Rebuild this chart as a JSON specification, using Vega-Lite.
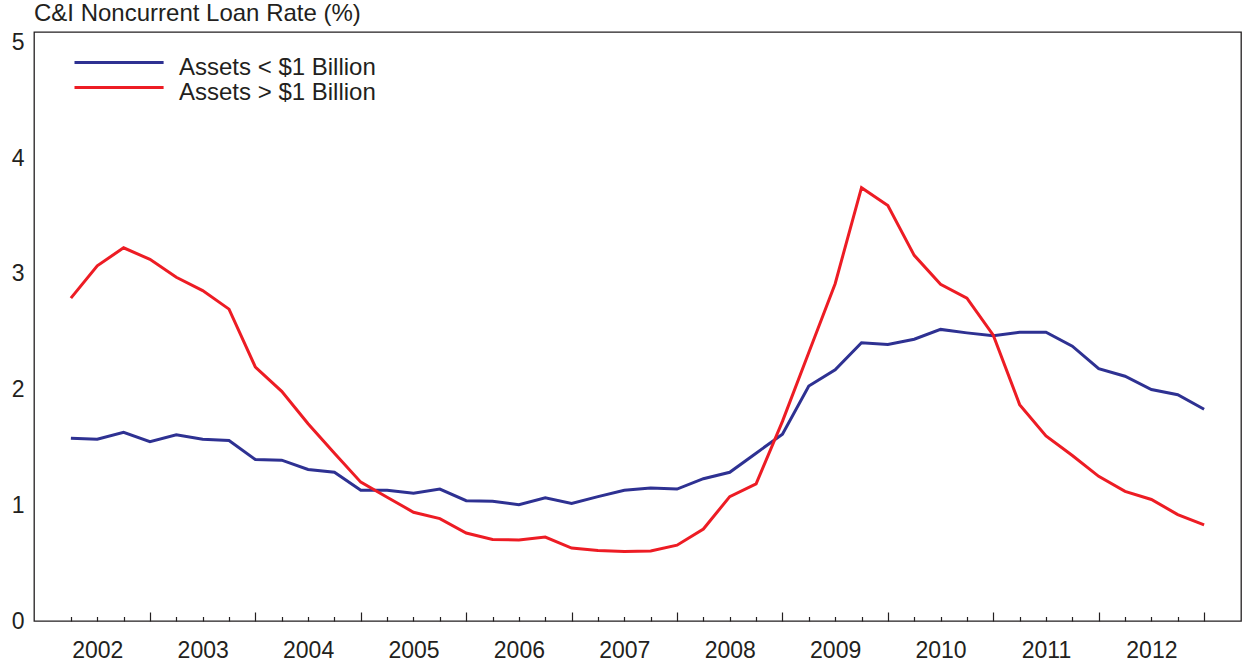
{
 "$schema": "https://vega.github.io/schema/vega-lite/v6.json",
 "width": 1207, "height": 589,
 "autosize": {"type": "none"},
 "padding": {"left": 34, "top": 32, "right": 1, "bottom": 45},
 "background": "white",
 "config": {"view": {"stroke": "#231f20", "strokeWidth": 1.3}, "font": "Liberation Sans"},
 "title": {"text": "C&I Noncurrent Loan Rate (%)", "anchor": "start", "fontSize": 24, "fontWeight": "normal", "color": "#231f20", "font": "Liberation Sans", "baseline": "alphabetic", "offset": -14, "frame": "group"},
 "data": {"values": [
  {"q":0,"series":"Assets < $1 Billion","rate":1.58},
  {"q":1,"series":"Assets < $1 Billion","rate":1.57},
  {"q":2,"series":"Assets < $1 Billion","rate":1.63},
  {"q":3,"series":"Assets < $1 Billion","rate":1.55},
  {"q":4,"series":"Assets < $1 Billion","rate":1.61},
  {"q":5,"series":"Assets < $1 Billion","rate":1.57},
  {"q":6,"series":"Assets < $1 Billion","rate":1.56},
  {"q":7,"series":"Assets < $1 Billion","rate":1.395},
  {"q":8,"series":"Assets < $1 Billion","rate":1.39},
  {"q":9,"series":"Assets < $1 Billion","rate":1.31},
  {"q":10,"series":"Assets < $1 Billion","rate":1.285},
  {"q":11,"series":"Assets < $1 Billion","rate":1.13},
  {"q":12,"series":"Assets < $1 Billion","rate":1.13},
  {"q":13,"series":"Assets < $1 Billion","rate":1.105},
  {"q":14,"series":"Assets < $1 Billion","rate":1.14},
  {"q":15,"series":"Assets < $1 Billion","rate":1.04},
  {"q":16,"series":"Assets < $1 Billion","rate":1.035},
  {"q":17,"series":"Assets < $1 Billion","rate":1.005},
  {"q":18,"series":"Assets < $1 Billion","rate":1.065},
  {"q":19,"series":"Assets < $1 Billion","rate":1.015},
  {"q":20,"series":"Assets < $1 Billion","rate":1.075},
  {"q":21,"series":"Assets < $1 Billion","rate":1.13},
  {"q":22,"series":"Assets < $1 Billion","rate":1.15},
  {"q":23,"series":"Assets < $1 Billion","rate":1.14},
  {"q":24,"series":"Assets < $1 Billion","rate":1.23},
  {"q":25,"series":"Assets < $1 Billion","rate":1.285},
  {"q":26,"series":"Assets < $1 Billion","rate":1.45},
  {"q":27,"series":"Assets < $1 Billion","rate":1.615},
  {"q":28,"series":"Assets < $1 Billion","rate":2.03},
  {"q":29,"series":"Assets < $1 Billion","rate":2.17},
  {"q":30,"series":"Assets < $1 Billion","rate":2.405},
  {"q":31,"series":"Assets < $1 Billion","rate":2.39},
  {"q":32,"series":"Assets < $1 Billion","rate":2.435},
  {"q":33,"series":"Assets < $1 Billion","rate":2.52},
  {"q":34,"series":"Assets < $1 Billion","rate":2.49},
  {"q":35,"series":"Assets < $1 Billion","rate":2.465},
  {"q":36,"series":"Assets < $1 Billion","rate":2.495},
  {"q":37,"series":"Assets < $1 Billion","rate":2.495},
  {"q":38,"series":"Assets < $1 Billion","rate":2.375},
  {"q":39,"series":"Assets < $1 Billion","rate":2.18},
  {"q":40,"series":"Assets < $1 Billion","rate":2.115},
  {"q":41,"series":"Assets < $1 Billion","rate":2.0},
  {"q":42,"series":"Assets < $1 Billion","rate":1.955},
  {"q":43,"series":"Assets < $1 Billion","rate":1.83},
  {"q":0,"series":"Assets > $1 Billion","rate":2.79},
  {"q":1,"series":"Assets > $1 Billion","rate":3.07},
  {"q":2,"series":"Assets > $1 Billion","rate":3.225},
  {"q":3,"series":"Assets > $1 Billion","rate":3.125},
  {"q":4,"series":"Assets > $1 Billion","rate":2.97},
  {"q":5,"series":"Assets > $1 Billion","rate":2.855},
  {"q":6,"series":"Assets > $1 Billion","rate":2.695},
  {"q":7,"series":"Assets > $1 Billion","rate":2.195},
  {"q":8,"series":"Assets > $1 Billion","rate":1.985},
  {"q":9,"series":"Assets > $1 Billion","rate":1.705},
  {"q":10,"series":"Assets > $1 Billion","rate":1.45},
  {"q":11,"series":"Assets > $1 Billion","rate":1.2},
  {"q":12,"series":"Assets > $1 Billion","rate":1.07},
  {"q":13,"series":"Assets > $1 Billion","rate":0.94},
  {"q":14,"series":"Assets > $1 Billion","rate":0.885},
  {"q":15,"series":"Assets > $1 Billion","rate":0.76},
  {"q":16,"series":"Assets > $1 Billion","rate":0.705},
  {"q":17,"series":"Assets > $1 Billion","rate":0.7},
  {"q":18,"series":"Assets > $1 Billion","rate":0.725},
  {"q":19,"series":"Assets > $1 Billion","rate":0.63},
  {"q":20,"series":"Assets > $1 Billion","rate":0.61},
  {"q":21,"series":"Assets > $1 Billion","rate":0.6},
  {"q":22,"series":"Assets > $1 Billion","rate":0.605},
  {"q":23,"series":"Assets > $1 Billion","rate":0.655},
  {"q":24,"series":"Assets > $1 Billion","rate":0.795},
  {"q":25,"series":"Assets > $1 Billion","rate":1.075},
  {"q":26,"series":"Assets > $1 Billion","rate":1.185},
  {"q":27,"series":"Assets > $1 Billion","rate":1.725},
  {"q":28,"series":"Assets > $1 Billion","rate":2.32},
  {"q":29,"series":"Assets > $1 Billion","rate":2.915},
  {"q":30,"series":"Assets > $1 Billion","rate":3.745},
  {"q":31,"series":"Assets > $1 Billion","rate":3.59},
  {"q":32,"series":"Assets > $1 Billion","rate":3.16},
  {"q":33,"series":"Assets > $1 Billion","rate":2.91},
  {"q":34,"series":"Assets > $1 Billion","rate":2.79},
  {"q":35,"series":"Assets > $1 Billion","rate":2.47},
  {"q":36,"series":"Assets > $1 Billion","rate":1.87},
  {"q":37,"series":"Assets > $1 Billion","rate":1.6},
  {"q":38,"series":"Assets > $1 Billion","rate":1.43},
  {"q":39,"series":"Assets > $1 Billion","rate":1.25},
  {"q":40,"series":"Assets > $1 Billion","rate":1.12},
  {"q":41,"series":"Assets > $1 Billion","rate":1.05},
  {"q":42,"series":"Assets > $1 Billion","rate":0.92},
  {"q":43,"series":"Assets > $1 Billion","rate":0.83}
 ]},
 "mark": {"type": "line", "strokeWidth": 3},
 "encoding": {
  "x": {"field": "q", "type": "quantitative",
   "scale": {"domain": [-1.4, 44.4], "nice": false, "zero": false},
   "axis": {"title": null, "values": [0,1,2,3,4,5,6,7,8,9,10,11,12,13,14,15,16,17,18,19,20,21,22,23,24,25,26,27,28,29,30,31,32,33,34,35,36,37,38,39,40,41,42,43],
    "domain": false, "grid": false, "tickColor": "#231f20", "tickWidth": 1.2,
    "tickSize": {"condition": {"test": "datum.value % 4 == 3", "value": -9}, "value": -4.5},
    "labelExpr": "datum.value % 4 == 1 ? '' + (2002 + floor(datum.value / 4)) : ''",
    "labelFontSize": 23, "labelColor": "#231f20", "labelPadding": 23,
    "labelOverlap": false, "labelBound": false, "labelFlush": false}},
  "y": {"field": "rate", "type": "quantitative",
   "scale": {"domain": [0, 5.09], "nice": false},
   "axis": {"title": null, "values": [0,1,2,3,4,5], "domain": false, "ticks": false, "grid": false,
    "labelFontSize": 23, "labelPadding": 10, "labelColor": "#231f20"}},
  "color": {"field": "series", "type": "nominal",
   "scale": {"domain": ["Assets < $1 Billion", "Assets > $1 Billion"], "range": ["#2e3192", "#ed1c24"]},
   "legend": {"title": null, "orient": "none", "legendX": 28, "legendY": 23,
    "symbolType": "M0,-0.45H8.1", "symbolSize": 484, "symbolStrokeWidth": 3,
    "labelFontSize": 24, "labelOffset": 92, "labelLimit": 0, "labelColor": "#231f20", "rowPadding": 0, "padding": 0}}
 }
}
